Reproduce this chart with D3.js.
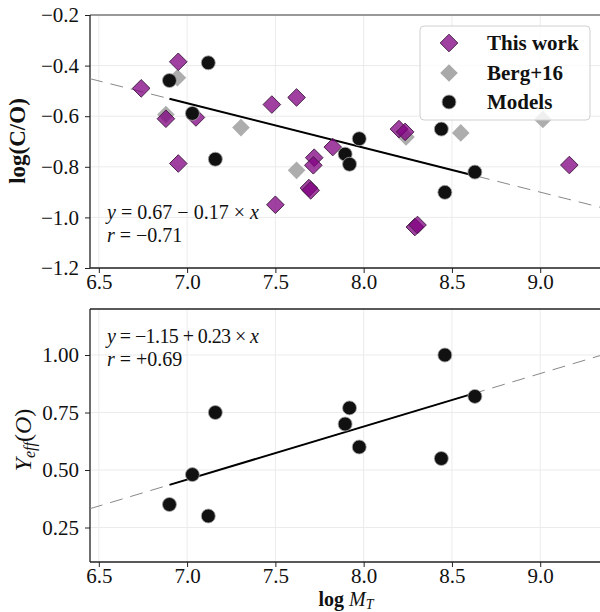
<!DOCTYPE html>
<html>
<head>
<meta charset="utf-8">
<script src="https://cdn.jsdelivr.net/npm/d3@7/dist/d3.min.js"></script>
<style>
  html, body { margin: 0; padding: 0; background: #fff; }
  svg { display: block; }
  text { font-family: "Liberation Serif", "DejaVu Serif", serif; fill: #111; }
</style>
</head>
<body>
<svg id="chart" width="600" height="612"></svg>
<script>
// Tick positions
const xTicks = [6.5, 7.0, 7.5, 8.0, 8.5, 9.0];
const coTicks = [-1.2, -1.0, -0.8, -0.6, -0.4, -0.2];
const yeffTicks = [0.25, 0.50, 0.75, 1.00];

// "This work" galaxies: log total mass and log(C/O)
const thisWorkLogM = [6.74, 6.95, 6.88, 7.05, 6.95, 7.48, 7.62, 7.825, 7.72, 7.715, 7.69, 7.70, 7.50, 8.20, 8.235, 8.29, 8.305, 9.165];
const thisWorkLogCO = [-0.49, -0.385, -0.61, -0.605, -0.787, -0.554, -0.526, -0.722, -0.764, -0.794, -0.884, -0.893, -0.95, -0.651, -0.662, -1.038, -1.030, -0.793];

// Berg+16 sample
const bergLogM = [6.945, 6.88, 7.305, 7.62, 8.24, 8.55, 9.015];
const bergLogCO = [-0.448, -0.593, -0.645, -0.814, -0.682, -0.666, -0.613];

// Chemical-evolution models
const modelLogM = [6.90, 7.03, 7.12, 7.16, 7.895, 7.92, 7.975, 8.44, 8.46, 8.63];
const modelLogCO = [-0.459, -0.589, -0.389, -0.770, -0.750, -0.790, -0.689, -0.651, -0.901, -0.821];
const modelYeff = [0.35, 0.48, 0.30, 0.75, 0.70, 0.77, 0.60, 0.55, 1.00, 0.82];

// Fit annotations
const fitLabelCO = ["0.67", "−", "0.17"];
const corrCO = "−0.71";
const fitLabelYeff = ["−1.15", "+", "0.23"];
const corrYeff = "+0.69";

const legendLabels = ["This work", "Berg+16", "Models"];

const svg = d3.select("#chart");
const FONT = '"Liberation Serif", "DejaVu Serif", serif';

const x = d3.scaleLinear().domain([6.45, 9.35]).range([90, 602]);
const yCO = d3.scaleLinear().domain([-1.2, -0.2]).range([268, 15]);
const yYe = d3.scaleLinear().domain([0.1, 1.2]).range([562, 309]);

// least-squares line through the model points
function linfit(xs, ys) {
  const mx = d3.mean(xs), my = d3.mean(ys);
  const sxy = d3.sum(xs, (v, i) => (v - mx) * (ys[i] - my));
  const sxx = d3.sum(xs, v => (v - mx) * (v - mx));
  const b = sxy / sxx;
  return { a: my - b * mx, b };
}

function diamondPath(r) {
  return `M0,${-r}L${r},0L0,${r}L${-r},0Z`;
}

function panel(id, y, yTicks, yFmt, topSpineColor) {
  const [y0, y1] = y.range();
  const [x0, x1] = x.range();
  const g = svg.append("g");
  svg.append("clipPath").attr("id", id)
    .append("rect").attr("x", x0).attr("y", y1).attr("width", x1 - x0).attr("height", y0 - y1);

  // grid
  const grid = g.append("g").attr("stroke", "#ebebeb").attr("stroke-width", 1);
  grid.selectAll(".gx").data(xTicks).join("line")
    .attr("x1", d => x(d)).attr("x2", d => x(d)).attr("y1", y1).attr("y2", y0);
  grid.selectAll(".gy").data(yTicks).join("line")
    .attr("x1", x0).attr("x2", x1).attr("y1", d => y(d)).attr("y2", d => y(d));

  // axes
  const ax = g.append("g").attr("transform", `translate(0,${y0})`)
    .call(d3.axisBottom(x).tickValues(xTicks).tickFormat(d3.format(".1f")).tickSize(5).tickPadding(1));
  const ay = g.append("g").attr("transform", `translate(${x0},0)`)
    .call(d3.axisLeft(y).tickValues(yTicks).tickFormat(d3.format(yFmt)).tickSize(5).tickPadding(6));
  [ax, ay].forEach(a => {
    a.select(".domain").remove();
    a.selectAll(".tick line").attr("stroke", "#222").attr("stroke-width", 1);
    a.selectAll(".tick text").attr("font-family", FONT).attr("font-size", 21).attr("fill", "#111");
  });

  // spines
  g.append("line").attr("x1", x0).attr("x2", x1).attr("y1", y1).attr("y2", y1)
    .attr("stroke", topSpineColor).attr("stroke-width", 1.3);
  g.append("line").attr("x1", x0).attr("x2", x1).attr("y1", y0).attr("y2", y0)
    .attr("stroke", "#222").attr("stroke-width", 1.3);
  g.append("line").attr("x1", x0).attr("x2", x0).attr("y1", y1).attr("y2", y0)
    .attr("stroke", "#222").attr("stroke-width", 1.3);

  const plot = g.append("g").attr("clip-path", `url(#${id})`);
  return { g, plot };
}

function fitLines(plot, y, xs, ys) {
  const f = linfit(xs, ys);
  const fy = v => f.a + f.b * v;
  const [d0, d1] = x.domain();
  plot.append("line")
    .attr("x1", x(d0)).attr("y1", y(fy(d0))).attr("x2", x(d1)).attr("y2", y(fy(d1)))
    .attr("stroke", "#888").attr("stroke-width", 1).attr("stroke-dasharray", "13,8");
  const lo = d3.min(xs), hi = d3.max(xs);
  plot.append("line")
    .attr("x1", x(lo)).attr("y1", y(fy(lo))).attr("x2", x(hi)).attr("y2", y(fy(hi)))
    .attr("stroke", "#000").attr("stroke-width", 2);
}

function circles(plot, y, xs, ys) {
  plot.selectAll(null).data(xs).join("circle")
    .attr("cx", d => x(d)).attr("cy", (d, i) => y(ys[i])).attr("r", 7)
    .attr("fill", "#111").attr("stroke", "#aaa").attr("stroke-width", 0.8);
}

function fitText(g, ty, coeffs, corr) {
  const t = g.append("text").attr("x", 107).attr("y", ty)
    .attr("font-family", FONT).attr("font-size", 20).attr("fill", "#333")
    .attr("textLength", 152).attr("lengthAdjust", "spacing");
  t.append("tspan").attr("font-style", "italic").text("y");
  t.append("tspan").text(` = ${coeffs[0]} ${coeffs[1]} ${coeffs[2]} × `);
  t.append("tspan").attr("font-style", "italic").text("x");
  const r = g.append("text").attr("x", 107).attr("y", ty + 23)
    .attr("font-family", FONT).attr("font-size", 20).attr("fill", "#333");
  r.append("tspan").attr("font-style", "italic").text("r");
  r.append("tspan").text(` = ${corr}`);
}

// ---------- upper panel: log(C/O) ----------
const panelCO = panel("clipTop", yCO, coTicks, ".1f", "#7a7a7a");
fitLines(panelCO.plot, yCO, modelLogM, modelLogCO);
panelCO.plot.selectAll(null).data(bergLogM).join("path")
  .attr("d", diamondPath(8.8))
  .attr("transform", (d, i) => `translate(${x(d)},${yCO(bergLogCO[i])})`)
  .attr("fill", "#a9a9a9").attr("fill-opacity", 0.95);
panelCO.plot.selectAll(null).data(thisWorkLogM).join("path")
  .attr("d", diamondPath(8.8))
  .attr("transform", (d, i) => `translate(${x(d)},${yCO(thisWorkLogCO[i])})`)
  .attr("fill", "#800080").attr("fill-opacity", 0.75)
  .attr("stroke", "#4a224a").attr("stroke-width", 1);
circles(panelCO.plot, yCO, modelLogM, modelLogCO);
fitText(panelCO.g, 219, fitLabelCO, corrCO);

// legend
const lg = panelCO.g.append("g");
lg.append("rect").attr("x", 420).attr("y", 26).attr("width", 170).attr("height", 94).attr("rx", 4)
  .attr("fill", "#fff").attr("fill-opacity", 0.8).attr("stroke", "#d0d0d0").attr("stroke-width", 1);
const legendY = [43, 73, 102];
lg.append("path").attr("d", diamondPath(8.8)).attr("transform", `translate(449,${legendY[0]})`)
  .attr("fill", "#800080").attr("fill-opacity", 0.75).attr("stroke", "#4a224a").attr("stroke-width", 1);
lg.append("path").attr("d", diamondPath(8.8)).attr("transform", `translate(449,${legendY[1]})`)
  .attr("fill", "#a9a9a9");
lg.append("circle").attr("cx", 449).attr("cy", legendY[2]).attr("r", 7)
  .attr("fill", "#111").attr("stroke", "#aaa").attr("stroke-width", 0.8);
lg.selectAll(".lt").data(legendLabels).join("text")
  .attr("x", 487).attr("y", (d, i) => legendY[i] + 7)
  .attr("font-family", FONT).attr("font-size", 21).attr("font-weight", "bold").text(d => d);

// y label, upper panel
svg.append("text").attr("transform", "translate(25,141) rotate(-90)")
  .attr("text-anchor", "middle").attr("font-family", FONT).attr("font-size", 23)
  .attr("font-weight", "bold").text("log(C/O)");

// ---------- lower panel: Y_eff(O) ----------
const panelY = panel("clipBot", yYe, yeffTicks, ".2f", "#222");
fitLines(panelY.plot, yYe, modelLogM, modelYeff);
circles(panelY.plot, yYe, modelLogM, modelYeff);
fitText(panelY.g, 343, fitLabelYeff, corrYeff);

const yl = svg.append("text").attr("transform", "translate(31,440) rotate(-90)")
  .attr("text-anchor", "middle").attr("font-family", FONT).attr("font-size", 24);
yl.append("tspan").attr("font-style", "italic").text("Y");
yl.append("tspan").attr("font-style", "italic").attr("font-size", 16).attr("dy", 4).text("eff");
yl.append("tspan").attr("dy", -4).text("(");
yl.append("tspan").attr("font-style", "italic").text("O");
yl.append("tspan").text(")");

// x label
const xl = svg.append("text").attr("x", 346).attr("y", 606)
  .attr("text-anchor", "middle").attr("font-family", FONT).attr("font-size", 20);
xl.append("tspan").attr("font-weight", "bold").text("log ");
xl.append("tspan").attr("font-style", "italic").text("M");
xl.append("tspan").attr("font-style", "italic").attr("font-size", 14).attr("dy", 2.5).text("T");
</script>
</body>
</html>
